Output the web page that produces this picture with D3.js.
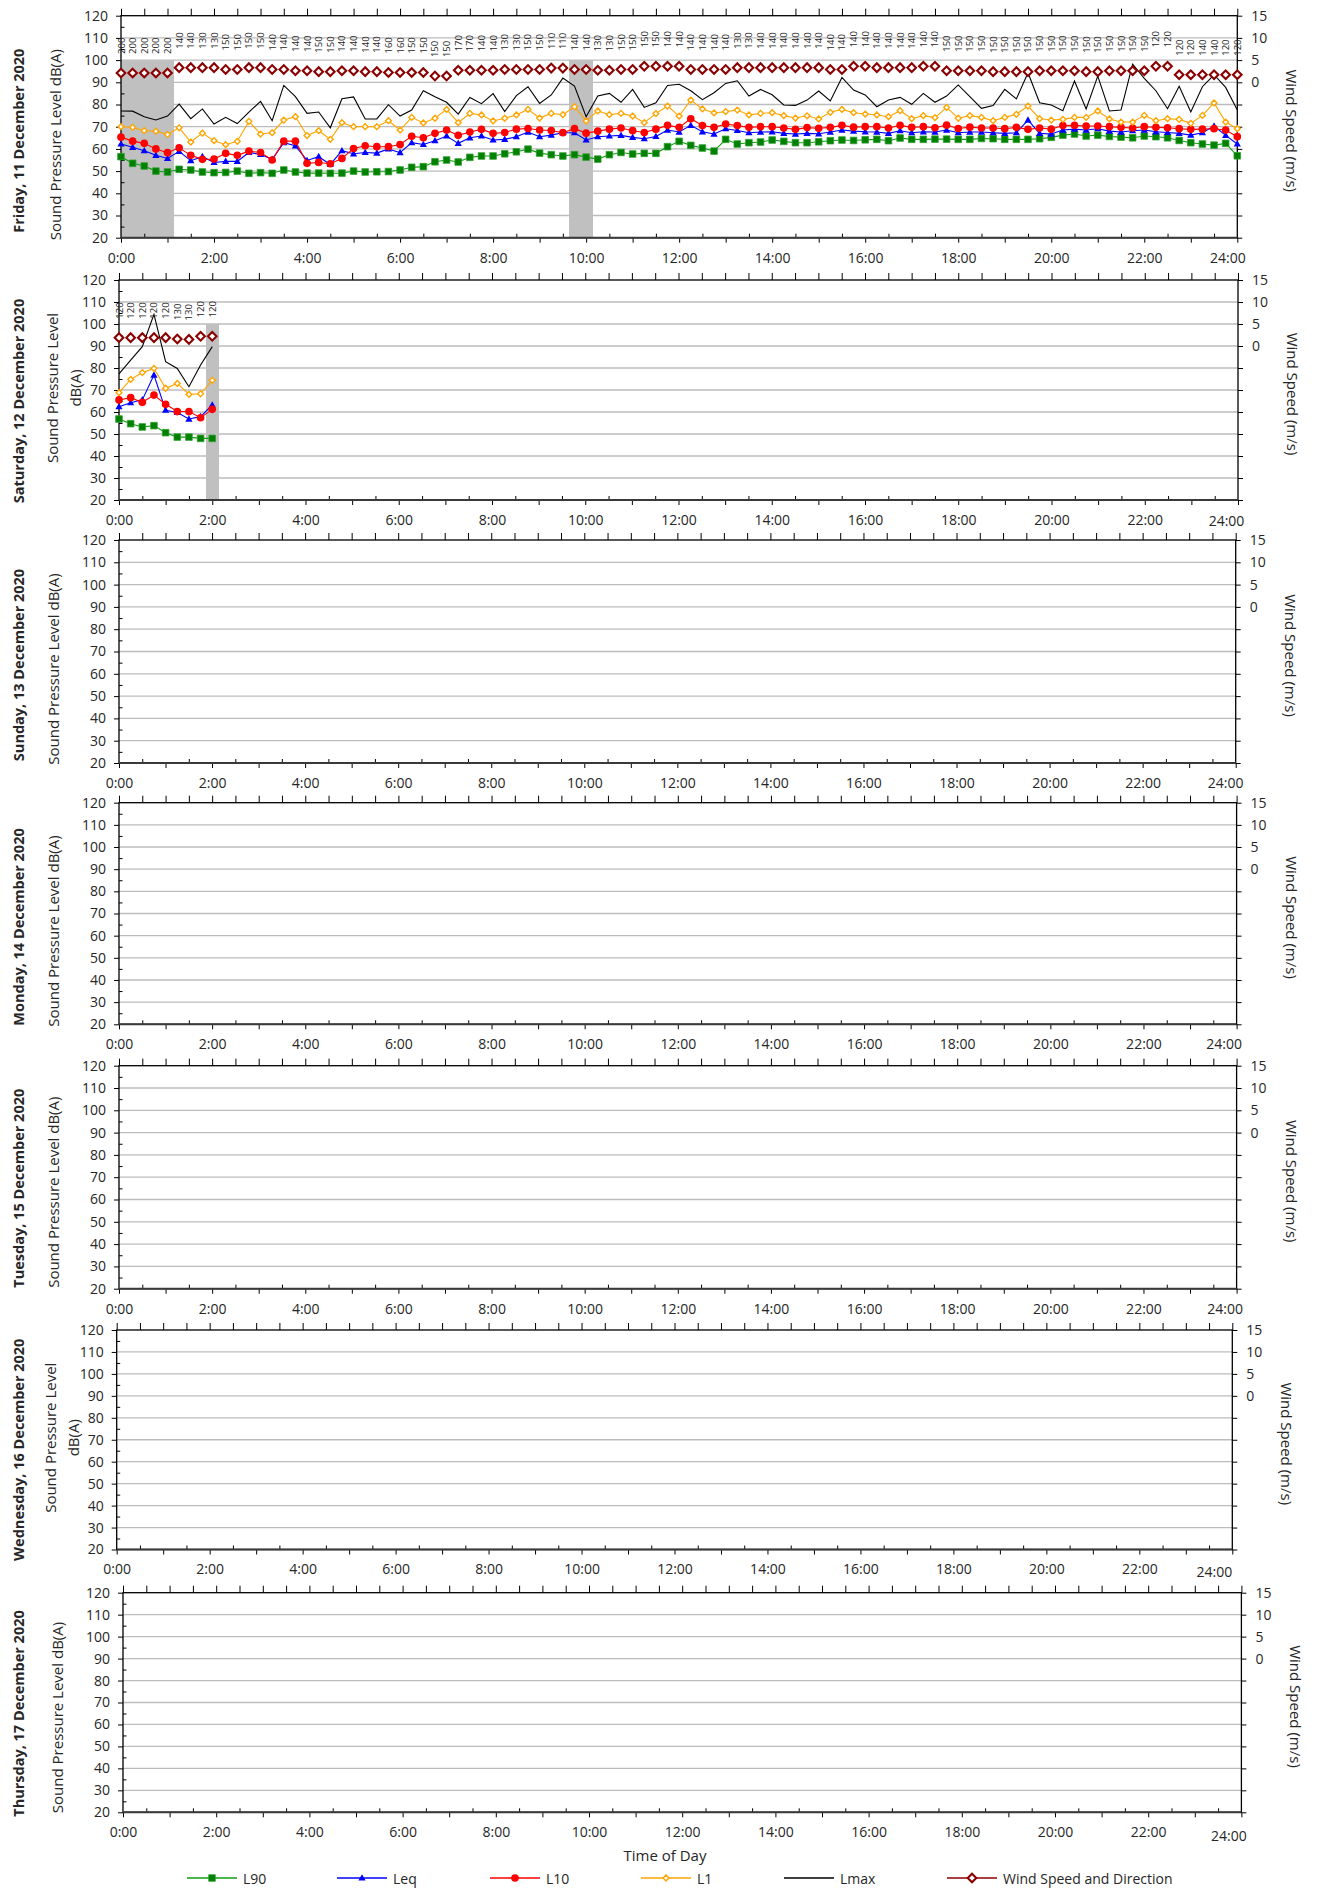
<!DOCTYPE html>
<html><head><meta charset="utf-8">
<script src="https://cdn.jsdelivr.net/npm/d3@7/dist/d3.min.js"></script>
<style>
body{margin:0;background:#fff}
text{font-family:"Open Sans",sans-serif;fill:#262626}
</style>
</head><body>
<svg id="c" width="1322" height="1888"></svg>
<script>
// ---------- DATA ----------
const dayTitles = ["Friday, 11 December 2020","Saturday, 12 December 2020","Sunday, 13 December 2020","Monday, 14 December 2020","Tuesday, 15 December 2020","Wednesday, 16 December 2020","Thursday, 17 December 2020"];
const xTickLabels = ["0:00","2:00","4:00","6:00","8:00","10:00","12:00","14:00","16:00","18:00","20:00","22:00","24:00"];
const splTicks = [20,30,40,50,60,70,80,90,100,110,120];
const windTickLabels = [0,5,10,15];
const legendNames = ["L90","Leq","L10","L1","Lmax","Wind Speed and Direction"];

// Friday 11 Dec (15-min intervals 0:00 .. 24:00)
const d1L90 = [56.5,53.5,52.3,50.0,49.6,50.8,50.5,49.6,49.3,49.4,
 50.0,49.0,49.3,49.0,50.5,49.6,49.1,49.1,49.0,49.1,
 50.0,49.6,49.7,49.8,50.5,51.7,52.0,54.2,55.0,54.1,
 56.2,56.8,56.8,57.8,58.7,59.9,58.1,57.4,56.8,57.4,
 56.3,55.4,57.4,58.4,57.7,58.0,58.0,61.0,63.4,61.6,
 60.4,59.0,64.3,62.2,62.8,63.1,64.0,63.4,62.8,62.8,
 63.2,63.7,64.0,63.8,64.1,64.3,63.7,64.9,64.3,64.3,
 64.4,64.4,64.3,64.3,64.7,64.6,64.3,64.3,64.3,64.6,
 65.2,66.2,66.7,65.8,66.2,65.6,65.3,65.0,65.8,65.5,
 65.0,63.8,62.8,62.2,61.7,62.5,56.9];
const d1Leq = [62.2,60.7,59.2,57.1,55.7,58.9,54.7,56.5,53.9,54.4,
 54.4,58.4,57.5,55.3,62.8,61.4,54.8,56.5,53.0,59.2,
 57.8,58.4,58.1,60.0,58.3,62.8,62.0,63.7,65.8,62.5,
 65.0,65.8,64.0,64.3,65.5,67.6,65.5,66.2,67.3,67.3,
 64.0,65.5,65.8,66.1,65.2,64.6,65.6,68.5,67.6,70.6,
 67.7,66.7,69.1,68.3,67.3,67.6,67.7,67.0,66.7,67.0,
 66.8,67.6,68.5,68.0,67.7,67.6,67.0,68.2,67.3,67.7,
 67.6,68.5,67.3,67.6,67.6,67.3,67.0,67.3,73.0,67.0,
 66.7,68.5,68.9,68.5,69.1,68.0,67.6,68.2,68.5,67.7,
 67.4,67.0,66.2,67.3,70.3,66.1,62.2];
const d1L10 = [65.3,63.5,62.5,60.0,58.3,60.5,57.1,55.3,55.4,58.0,
 57.1,59.0,58.4,55.0,63.5,63.5,53.5,53.9,53.3,55.7,
 60.2,61.4,61.0,61.0,62.0,65.7,65.0,67.0,68.5,66.1,
 67.6,68.8,67.0,67.4,68.9,69.2,68.5,68.3,67.3,69.1,
 67.1,68.0,68.9,69.4,68.2,67.4,68.9,70.6,69.7,73.6,
 70.5,69.7,71.2,70.5,69.7,70.0,70.0,69.4,68.8,69.6,
 69.3,69.7,70.6,69.8,70.0,70.0,69.4,70.6,69.7,70.0,
 69.5,70.7,69.2,69.8,69.4,69.4,69.1,69.7,68.8,69.4,
 68.9,70.5,70.6,70.3,70.3,70.0,69.7,69.4,70.0,69.7,
 69.5,69.1,68.8,68.9,69.1,68.5,65.5];
const d1L1 = [70.0,69.7,68.2,68.0,66.5,69.5,63.1,67.1,63.7,61.9,
 63.4,72.4,66.7,67.3,73.0,74.5,66.0,68.2,64.3,71.8,
 70.0,70.0,70.0,72.7,68.5,74.2,71.7,73.8,77.8,71.8,
 76.0,75.3,72.6,73.8,75.3,77.8,73.9,76.0,75.4,79.0,
 72.6,77.1,75.4,76.0,74.8,71.8,75.9,79.3,74.8,82.0,
 78.0,76.2,76.8,77.5,75.3,76.0,76.3,75.0,73.9,74.9,
 73.5,76.5,77.8,76.3,75.7,75.3,74.5,77.2,73.6,75.0,
 74.1,78.7,73.8,75.0,74.2,72.7,74.2,75.6,79.3,73.6,
 73.0,73.3,74.2,74.2,77.1,73.5,72.1,72.1,75.1,72.7,
 73.6,73.3,71.5,75.1,80.7,72.1,69.1];
const d1Lmax = [77.1,77.0,74.5,73.0,74.8,80.2,73.6,78.0,71.2,74.2,
 71.4,76.6,81.4,72.7,88.6,83.5,76.0,76.6,69.5,82.6,
 83.4,73.5,73.5,79.9,74.8,77.5,86.2,83.5,81.0,75.7,
 83.2,80.4,84.9,76.8,84.0,88.0,80.5,84.3,91.9,88.3,
 74.5,83.8,85.0,81.0,86.8,78.7,80.8,88.6,89.1,86.2,
 82.2,85.3,89.5,90.7,83.8,86.8,84.4,79.8,79.6,82.0,
 86.1,81.6,92.2,86.5,84.3,79.0,82.0,83.2,80.1,85.0,
 81.0,83.8,88.8,83.5,78.3,79.5,86.8,82.5,94.3,80.8,
 79.8,77.2,90.6,78.0,92.8,77.1,77.5,98.2,91.8,86.2,
 78.1,88.2,76.6,88.0,93.4,87.7,77.5];
const d1Wind = [2.1,2.1,2.1,2.1,2.1,3.3,3.3,3.3,3.3,2.9,
 2.9,3.3,3.3,2.9,2.9,2.6,2.6,2.4,2.4,2.6,
 2.6,2.4,2.4,2.2,2.2,2.2,2.2,1.4,1.4,2.7,
 2.7,2.7,2.7,2.9,2.9,2.9,2.9,3.2,3.2,2.9,
 2.9,2.7,2.7,2.9,2.9,3.6,3.6,3.6,3.6,2.9,
 2.9,2.9,2.9,3.3,3.3,3.3,3.3,3.3,3.3,3.3,
 3.3,2.9,2.9,3.6,3.6,3.3,3.3,3.3,3.3,3.6,
 3.6,2.6,2.6,2.6,2.6,2.4,2.4,2.4,2.4,2.6,
 2.6,2.6,2.6,2.4,2.4,2.6,2.6,2.6,2.6,3.6,
 3.6,1.7,1.7,1.7,1.7,1.7,1.7];
const d1Dir = [200,200,200,200,200,140,140,130,130,150,
 150,150,150,140,140,140,140,150,150,140,
 140,140,140,160,160,150,150,150,150,170,
 170,140,140,130,130,150,150,110,110,140,
 140,130,130,150,150,150,150,140,140,140,
 140,140,140,130,130,140,140,140,140,140,
 140,140,140,140,140,140,140,140,140,140,
 140,150,150,150,150,150,150,150,150,150,
 150,150,150,150,150,150,150,150,150,120,
 120,120,120,140,140,120,120];
const d1Shade = [0,0.25,0.5,0.75,1.0,9.75,10.0];

// Saturday 12 Dec (0:00 .. 2:00)
const d2L90 = [56.8,54.7,53.2,53.8,50.6,48.6,48.6,48.0,48.0];
const d2Leq = [62.4,64.2,65.5,76.8,60.8,59.8,56.8,57.9,63.2];
const d2L10 = [65.5,66.5,64.4,67.7,63.5,60.2,60.2,57.4,61.2];
const d2L1 = [68.8,74.8,77.9,79.8,70.8,73.0,68.0,68.3,74.4];
const d2Lmax = [77.3,83.6,89.7,104.4,82.9,79.8,71.5,81.4,89.7];
const d2Wind = [1.9,1.9,1.9,1.9,1.9,1.6,1.5,2.2,2.2];
const d2Dir = [120,120,120,120,120,130,130,120,120];
const d2Shade = [2.0];

const intervalHours = 0.25;

// ---------- LAYOUT / STYLE ----------
const panels = [
 {L:121,R:1237.3,T:15.7,B:237.7,wrap:false,tdy:14,lastDx:-10,lastDy:0},
 {L:119,R:1238,T:280,B:500,wrap:true,tdy:11,lastDx:-12,lastDy:1.5},
 {L:119,R:1235.7,T:540,B:763,wrap:false,tdy:13.5,lastDx:-10.5,lastDy:0},
 {L:119,R:1236.6,T:802.7,B:1024.3,wrap:false,tdy:13.5,lastDx:-13,lastDy:0},
 {L:119,R:1236.6,T:1065.7,B:1288.7,wrap:false,tdy:11,lastDx:-12,lastDy:0},
 {L:116.7,R:1232.3,T:1330,B:1549.5,wrap:true,tdy:10,lastDx:-18.5,lastDy:2.5},
 {L:123,R:1241.4,T:1592.7,B:1812.3,wrap:false,tdy:11,lastDx:-13,lastDy:3.5}
];
const days = [
 {L90:d1L90,Leq:d1Leq,L10:d1L10,L1:d1L1,Lmax:d1Lmax,wind:d1Wind,dir:d1Dir,shade:d1Shade},
 {L90:d2L90,Leq:d2Leq,L10:d2L10,L1:d2L1,Lmax:d2Lmax,wind:d2Wind,dir:d2Dir,shade:d2Shade},
 null,null,null,null,null
];
const styles = {
 L90:{line:"#10a010",fill:"#008000",stroke:"#30a030",marker:"square"},
 Leq:{line:"#0000ff",fill:"#0000ff",stroke:"#0000ff",marker:"triangle"},
 L10:{line:"#ff0000",fill:"#ff0000",stroke:"#ff0000",marker:"circle"},
 L1:{line:"#ffa500",fill:"#ffffff",stroke:"#ffa500",marker:"smalldiamond"},
 Lmax:{line:"#000000",marker:null},
 wind:{line:"#8b0000",fill:"#ffffff",stroke:"#8b0000",marker:"diamond"}
};
const seriesKeys = ["L90","Leq","L10","L1","Lmax"];

const svg = d3.select("#c");
svg.append("rect").attr("width",1322).attr("height",1888).attr("fill","#fff");

function markerPath(type){
  if(type==="square") return "M-3.3,-3.3H3.3V3.3H-3.3Z";
  if(type==="triangle") return "M0,-3.8L3.6,2.6L-3.6,2.6Z";
  if(type==="circle") return d3.symbol(d3.symbolCircle,46)();
  if(type==="smalldiamond") return "M0,-2.9L2.9,0L0,2.9L-2.9,0Z";
  if(type==="diamond") return "M0,-4.3L4.3,0L0,4.3L-4.3,0Z";
  return "";
}
function drawMarker(g,type,st,x,y){
  const p = g.append("path").attr("d",markerPath(type)).attr("transform",`translate(${x},${y})`)
    .attr("fill",st.fill);
  if(type==="diamond") p.attr("stroke",st.stroke).attr("stroke-width",2.1);
  else if(type==="smalldiamond") p.attr("stroke",st.stroke).attr("stroke-width",1.4);
  else if(type==="square") p.attr("stroke",st.stroke).attr("stroke-width",0.8);
  else p.attr("stroke","none");
}

panels.forEach((P,pi)=>{
  const g = svg.append("g");
  const x = d3.scaleLinear().domain([0,24]).range([P.L,P.R]);
  const y = d3.scaleLinear().domain([20,120]).range([P.B,P.T]);
  const w = d3.scaleLinear().domain([-35,15]).range([P.B,P.T]);

  // gridlines
  g.append("g").selectAll("line").data(splTicks.filter(v=>v>20&&v<120)).join("line")
    .attr("x1",P.L).attr("x2",P.R).attr("y1",d=>y(d)).attr("y2",d=>y(d))
    .attr("stroke","#bcbcbc").attr("stroke-width",1.3);

  const D = days[pi];
  // shaded columns
  if(D){
    g.append("g").attr("shape-rendering","crispEdges").selectAll("rect").data(D.shade).join("rect")
      .attr("x",d=>Math.max(P.L,x(d-intervalHours/2)))
      .attr("width",d=>x(d+intervalHours/2)-Math.max(P.L,x(d-intervalHours/2))+0.8)
      .attr("y",y(100)).attr("height",y(20)-y(100)).attr("fill","#c0c0c0");
  }

  // axes
  const ax = g.append("g").attr("class","axes");
  const left = ax.append("g").attr("transform",`translate(${P.L},0)`)
    .call(d3.axisLeft(y).tickValues(splTicks).tickSize(5).tickPadding(8));
  const leftMinor = ax.append("g").attr("transform",`translate(${P.L},0)`)
    .call(d3.axisLeft(y).tickValues(splTicks.slice(0,-1).map(v=>v+5)).tickSize(-3.5).tickFormat(""));
  const right = ax.append("g").attr("transform",`translate(${P.R},0)`)
    .call(d3.axisRight(w).tickValues(d3.range(-35,16,5)).tickSize(5).tickPadding(9)
      .tickFormat(d=>windTickLabels.includes(d)?String(d):""));
  const top = ax.append("g").attr("transform",`translate(0,${P.T})`)
    .call(d3.axisTop(x).tickValues(d3.range(0,24.01,0.5)).tickSize(7).tickFormat(""));
  const bottom = ax.append("g").attr("transform",`translate(0,${P.B})`)
    .call(d3.axisBottom(x).tickValues(d3.range(0,25,1)).tickSize(5).tickPadding(10)
      .tickFormat(d=>d%2===0?xTickLabels[d/2]:""));
  const bottomMinor = ax.append("g").attr("transform",`translate(0,${P.B})`)
    .call(d3.axisBottom(x).tickValues(d3.range(0.5,24,1)).tickSize(-4).tickFormat(""));
  [left,leftMinor,right,top,bottom,bottomMinor].forEach(a=>{
    a.select(".domain").remove();
    a.selectAll(".tick line").attr("stroke","#000").attr("stroke-width",1);
    a.selectAll("text").style("font-size","14px").attr("fill","#262626");
  });
  bottom.selectAll(".tick").filter(d=>d===24).select("text")
    .attr("x",P.lastDx).attr("y",15+P.lastDy);
  // frame
  ax.append("rect").attr("x",P.L).attr("y",P.T).attr("width",P.R-P.L).attr("height",P.B-P.T)
    .attr("fill","none").attr("stroke","#000").attr("stroke-width",1.3);
  ax.append("line").attr("x1",P.L).attr("x2",P.R).attr("y1",P.B).attr("y2",P.B)
    .attr("stroke","#3a3a3a").attr("stroke-width",2);

  // series
  if(D){
    const tOf = i=>i*intervalHours;
    seriesKeys.forEach(k=>{
      const st = styles[k];
      g.append("path").datum(D[k]).attr("fill","none").attr("stroke",st.line).attr("stroke-width",1.1)
        .attr("d",d3.line().x((d,i)=>x(tOf(i))).y(d=>y(d)));
      if(st.marker){
        const mg = g.append("g");
        D[k].forEach((v,i)=>drawMarker(mg,st.marker,st,x(tOf(i)),y(v)));
      }
    });
    const wg = g.append("g");
    D.wind.forEach((v,i)=>drawMarker(wg,"diamond",styles.wind,x(tOf(i)),w(v)));
    g.append("g").selectAll("text").data(D.dir).join("text")
      .attr("transform",(d,i)=>`translate(${x(tOf(i))},${w(D.wind[i])-19}) rotate(-90)`)
      .attr("text-anchor","start").attr("dominant-baseline","central")
      .style("font-size","9.5px").attr("fill","#000").text(d=>d);
  }

  // titles
  const cy = (P.T+P.B)/2;
  g.append("text").attr("transform",`translate(18,${cy+P.tdy}) rotate(-90)`)
    .attr("text-anchor","middle").attr("dominant-baseline","central")
    .style("font-size","14.5px").style("font-weight","bold").attr("fill","#000").text(dayTitles[pi]);
  if(P.wrap){
    g.append("text").attr("transform",`translate(${P.L-67},${cy-2}) rotate(-90)`)
      .attr("text-anchor","middle").attr("dominant-baseline","central").style("font-size","15px").text("Sound Pressure Level");
    g.append("text").attr("transform",`translate(${P.L-44},${cy-2}) rotate(-90)`)
      .attr("text-anchor","middle").attr("dominant-baseline","central").style("font-size","15px").text("dB(A)");
  } else {
    g.append("text").attr("transform",`translate(${P.L-66},${cy+P.tdy+4}) rotate(-90)`)
      .attr("text-anchor","middle").attr("dominant-baseline","central").style("font-size","15px").text("Sound Pressure Level dB(A)");
  }
  g.append("text").attr("transform",`translate(${P.R+55},${cy+4}) rotate(90)`)
    .attr("text-anchor","middle").attr("dominant-baseline","central").style("font-size","15px").text("Wind Speed (m/s)");
});

// x axis title
svg.append("text").attr("x",665).attr("y",1855).attr("text-anchor","middle").attr("dominant-baseline","central")
  .style("font-size","15px").text("Time of Day");

// legend
const legendX = [187,337,490,641,784,947];
const legKeys = ["L90","Leq","L10","L1","Lmax","wind"];
const lg = svg.append("g");
legKeys.forEach((k,i)=>{
  const st = styles[k];
  const x0 = legendX[i], yy = 1878;
  lg.append("line").attr("x1",x0).attr("x2",x0+50).attr("y1",yy).attr("y2",yy).attr("stroke",st.line).attr("stroke-width",1.6);
  if(st.marker) drawMarker(lg,st.marker,st,x0+25,yy);
  lg.append("text").attr("x",x0+56).attr("y",yy).attr("dominant-baseline","central").style("font-size","14px").text(legendNames[i]);
});
</script>
</body></html>
